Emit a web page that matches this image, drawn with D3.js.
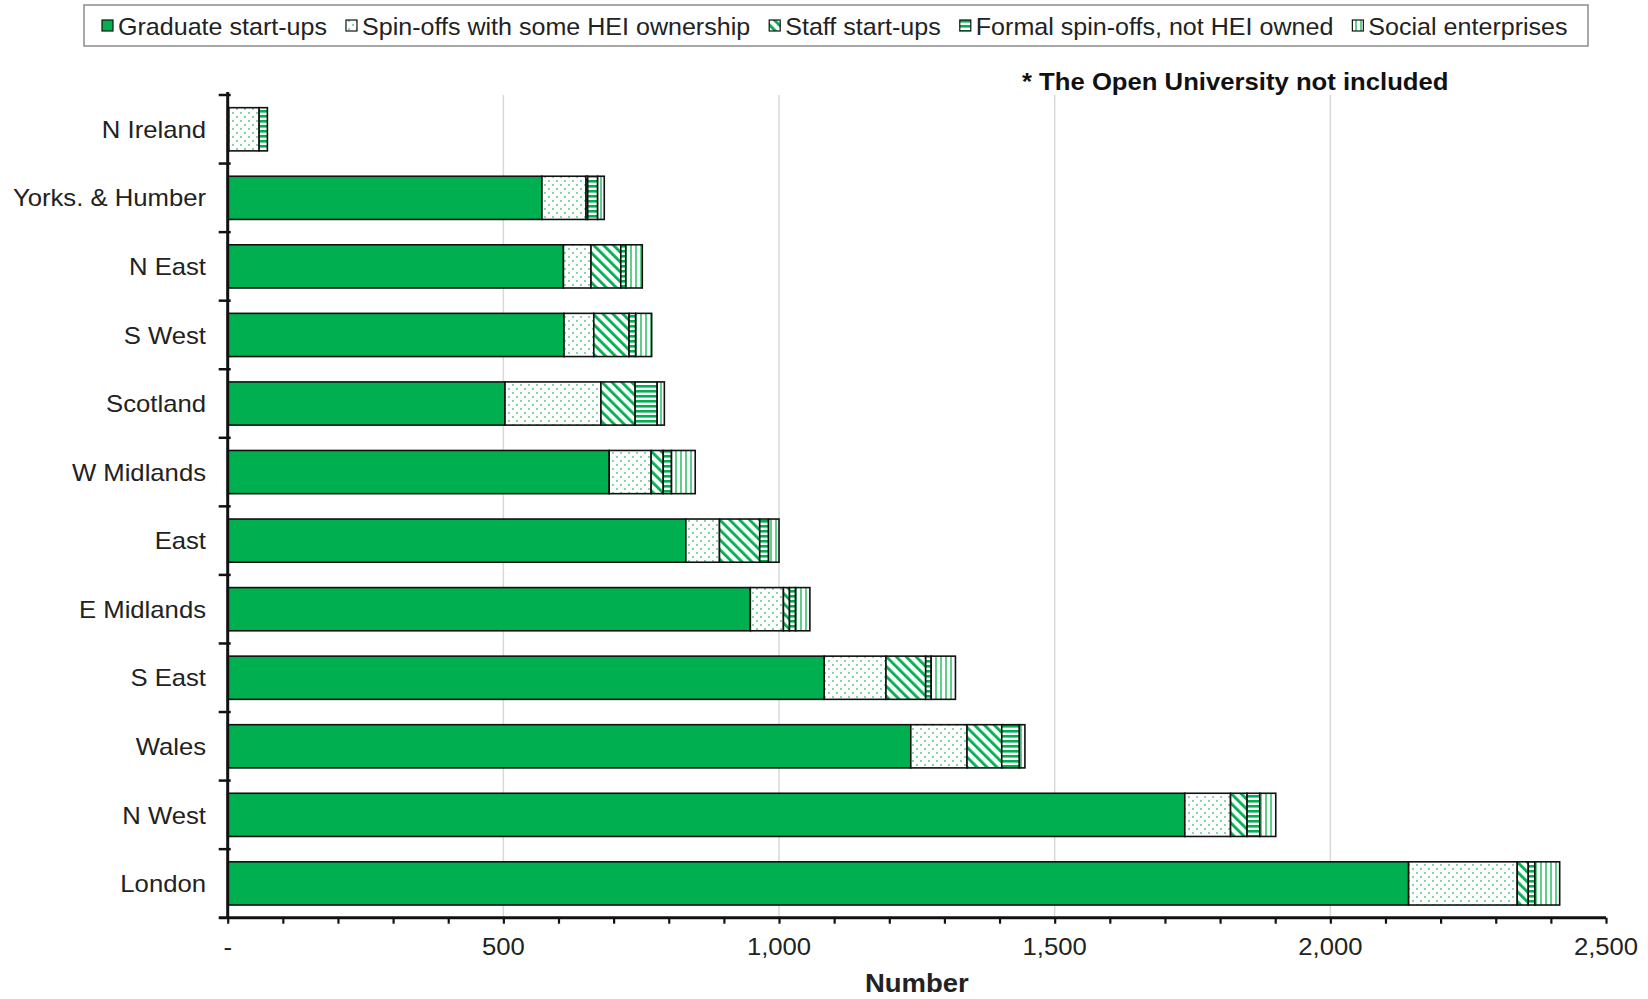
<!DOCTYPE html>
<html><head><meta charset="utf-8">
<script src="https://cdn.jsdelivr.net/npm/d3@7"></script>
<style>
html,body{margin:0;padding:0;background:#fff;}
text{font-family:"Liberation Sans",Arial,sans-serif;}
</style></head>
<body><svg id="chart" width="1648" height="999"></svg>
<script>
const categories = ["N Ireland","Yorks. & Humber","N East","S West","Scotland","W Midlands","East","E Midlands","S East","Wales","N West","London"];
const seriesNames = ["Graduate start-ups","Spin-offs with some HEI ownership","Staff start-ups","Formal spin-offs, not HEI owned","Social enterprises"];
const graduate = [2,570,609,610,503,692,831,948,1082,1239,1736,2142];
const spinHEI  = [55,80,50,54,174,76,61,60,112,102,83,197];
const staff    = [0,3,54,64,62,22,73,11,72,63,30,20];
const formal   = [15,18,9,12,40,15,16,11,10,32,23,12];
const social   = [0,12,30,29,13,43,19,26,44,10,29,45];
const xTicksMajor = [0,500,1000,1500,2000,2500];
const note = "* The Open University not included";
const xTitle = "Number";

const seriesVals = [graduate, spinHEI, staff, formal, social];
const fills = ["#00B050","url(#pDots)","url(#pDiag)","url(#pHoriz)","url(#pVert)"];
const SX = 1.07, FS = 24, LSX = 1.045;

const svg = d3.select("#chart");
svg.append("rect").attr("width",1648).attr("height",999).attr("fill","#fff");
const defs = svg.append("defs");
const G = "#00B050";
let p = defs.append("pattern").attr("id","pDots").attr("patternUnits","userSpaceOnUse").attr("width",8).attr("height",8);
p.append("rect").attr("width",8).attr("height",8).attr("fill","#fff");
[[1,1],[5,5]].forEach(([cx,cy])=>p.append("circle").attr("cx",cx).attr("cy",cy).attr("r",0.9).attr("fill","#4cc57e"));
p = defs.append("pattern").attr("id","pDiag").attr("patternUnits","userSpaceOnUse").attr("width",7).attr("height",7).attr("patternTransform","rotate(-45)");
p.append("rect").attr("width",7).attr("height",7).attr("fill","#fff");
p.append("rect").attr("width",2.8).attr("height",7).attr("fill",G);
p = defs.append("pattern").attr("id","pHoriz").attr("patternUnits","userSpaceOnUse").attr("width",5).attr("height",5);
p.append("rect").attr("width",5).attr("height",5).attr("fill","#fff");
p.append("rect").attr("width",5).attr("height",2.6).attr("fill",G);
p = defs.append("pattern").attr("id","pVert").attr("patternUnits","userSpaceOnUse").attr("width",5).attr("height",5);
p.append("rect").attr("width",5).attr("height",5).attr("fill","#fff");
p.append("rect").attr("width",2).attr("height",5).attr("fill","#5fcf8c");

const x = d3.scaleLinear().domain([0,2500]).range([227.7,1606]);
const y = d3.scaleBand().domain(categories).range([95,917.7]).paddingInner(0.37).paddingOuter(0.185);

function stext(g, tx, ty, str, opts={}) {
  const t = g.append("text").attr("transform",`translate(${tx},${ty}) scale(${opts.sx||SX},1)`)
    .attr("font-size",opts.fs||FS).attr("fill",opts.fill||"#222")
    .attr("text-anchor",opts.anchor||"start").text(str);
  if (opts.bold) t.attr("font-weight","bold");
  if (opts.dy) t.attr("dy",opts.dy);
  return t;
}

svg.append("g").selectAll("line").data(xTicksMajor.filter(d=>d>0 && d<2500)).join("line")
  .attr("x1",d=>x(d)).attr("x2",d=>x(d)).attr("y1",95).attr("y2",917.7)
  .attr("stroke","#d9d9d9").attr("stroke-width",1.5);

const rows = categories.map((c,i)=>{const o={cat:c}; seriesNames.forEach((s,j)=>o[s]=seriesVals[j][i]); return o;});
const stack = d3.stack().keys(seriesNames)(rows);
svg.append("g").selectAll("g").data(stack).join("g")
  .attr("fill",(d,i)=>fills[i])
  .selectAll("rect").data(d=>d.filter(v=>v[1]-v[0]>0)).join("rect")
  .attr("x",d=>x(d[0])).attr("width",d=>x(d[1])-x(d[0]))
  .attr("y",d=>y(d.data.cat)).attr("height",y.bandwidth())
  .attr("stroke","#111").attr("stroke-width",1.6);

const yAxis = svg.append("g");
yAxis.append("line").attr("x1",x(0)).attr("x2",x(0)).attr("y1",92).attr("y2",918).attr("stroke","#111").attr("stroke-width",3);
const bounds = categories.map(c=>y(c)-y.step()*y.paddingInner()/2);
yAxis.selectAll("line.tk").data(bounds).join("line").attr("class","tk")
  .attr("x1",x(0)-9).attr("x2",x(0)+3).attr("y1",d=>d).attr("y2",d=>d).attr("stroke","#111").attr("stroke-width",2.5);
categories.forEach(c=>stext(yAxis, 206, y(c)+y.bandwidth()/2, c, {anchor:"end", dy:"0.36em"}));

const xAxis = d3.axisBottom(x).tickValues(d3.range(0,2501,100)).tickSize(6).tickFormat("");
const gx = svg.append("g").attr("transform","translate(0,917.7)").call(xAxis);
gx.select(".domain").attr("stroke","#111").attr("stroke-width",3).attr("d",`M${x(0)-9},0H${x(2500)}`);
gx.selectAll(".tick line").attr("stroke","#111").attr("stroke-width",2.2);
const gxl = svg.append("g");
xTicksMajor.forEach(d=>stext(gxl, x(d), 955, d===0?"-":d3.format(",")(d), {anchor:"middle"}));
stext(svg, (x(0)+x(2500))/2, 992, xTitle, {anchor:"middle", bold:true, fs:25, sx:1.1});

stext(svg, 1022, 90, note, {bold:true, fill:"#111"});

const lg = svg.append("g");
lg.append("rect").attr("x",84).attr("y",5).attr("width",1504).attr("height",41).attr("fill","#fff").attr("stroke","#8c8c8c").attr("stroke-width",1.5);
let cx = 102;
seriesNames.forEach((s,i)=>{
  lg.append("rect").attr("x",cx).attr("y",20).attr("width",11).attr("height",11).attr("fill",fills[i]).attr("stroke","#111").attr("stroke-width",1.2);
  const t = stext(lg, cx+16, 26, s, {dy:"0.36em", sx:LSX});
  cx += 16 + t.node().getComputedTextLength()*LSX + 19;
});
</script></body></html>
